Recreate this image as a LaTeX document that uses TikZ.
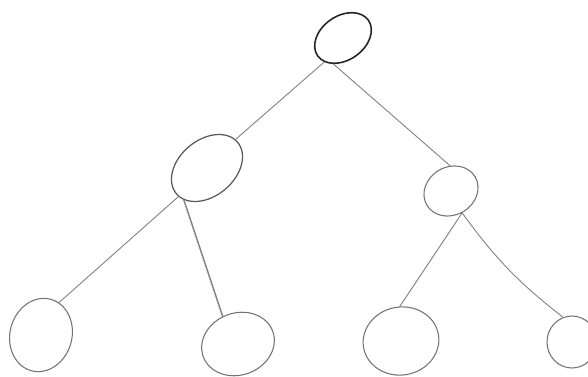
\documentclass[tikz,border=0pt]{standalone}
\usepackage{tikz}
\usetikzlibrary{shapes.geometric}
\tikzset{
  bub/.style={draw=black!55,ellipse,inner sep=0pt,line width=0.6pt},
  topbub/.style={bub,draw=black!85,line width=0.9pt},
  br/.style={black!50,line width=0.5pt,line cap=round},
  sheet/.style={fill=white,draw=none}
}

\begin{document}
\begin{tikzpicture}[x=0.02cm,y=-0.02cm]
\useasboundingbox (0,0) rectangle (588,376);
\clip (0,0) rectangle (588,376);
\fill[sheet] (0,0) rectangle (588,376);
\node[topbub,rotate=35,minimum width=1.24cm,minimum height=0.88cm] (root) at (343,38) {};
\node[bub,draw=black!65,line width=0.7pt,rotate=40,minimum width=1.6cm,minimum height=1.12cm] (lmid) at (207,168) {};
\node[bub,rotate=30,minimum width=1.12cm,minimum height=0.96cm] (rmid) at (451,191) {};
\node[bub,rotate=75,minimum width=1.48cm,minimum height=1.24cm] (lfa) at (41,335) {};
\node[bub,rotate=20,minimum width=1.48cm,minimum height=1.24cm] (lfb) at (238,344) {};
\node[bub,rotate=10,minimum width=1.52cm,minimum height=1.36cm] (lfc) at (401,341) {};
\node[bub,rotate=90,minimum width=1.04cm,minimum height=1.0cm] (lfd) at (572,342) {};
\draw[br] (root.197) -- (lmid.5);
\draw[br] (root.215) -- (rmid.62);
\draw[br] (lmid.185) -- (lfa.346);
\draw[br,line width=0.8pt] (lmid.194) -- (lfb.99);
\draw[br] (rmid.267) -- (lfc.82);
\draw[br] (rmid.267) to[bend right=8] (lfd.20);
\end{tikzpicture}
\end{document}
